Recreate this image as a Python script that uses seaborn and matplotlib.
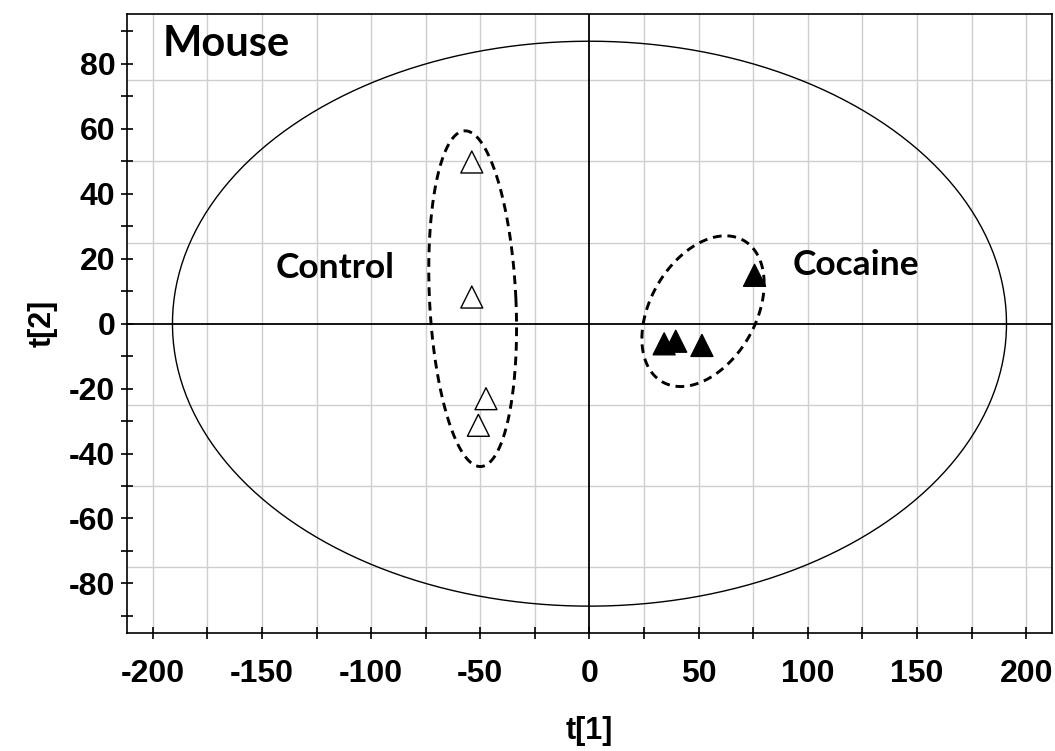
import numpy as np
import pandas as pd
import matplotlib
matplotlib.use("Agg")
import matplotlib.pyplot as plt
import seaborn as sns
from matplotlib.ticker import MultipleLocator

# scores
control_t1 = [-53.9, -53.9, -47.4, -50.9]
control_t2 = [49.8, 8.2, -23.1, -31.3]
cocaine_t1 = [34.2, 39.5, 51.5, 75.6]
cocaine_t2 = [-6.2, -5.4, -6.7, 14.9]

# Hotelling T2 ellipse (semi-axes t1, t2)
hotelling = [191, 87]
# group ellipses: cx, cy, A, B, C, D  ->  x = cx + A cos + B sin, y = cy + C cos + D sin
control_ell = [-53.5, 7.7, 19.8, -3.5, 0.0, 51.7]
cocaine_ell = [52.0, 3.85, 28.0, 0.0, 8.5, 21.6]

grid_x = [-200, -175, -150, -125, -100, -75, -50, -25, 25, 50, 75, 100, 125, 150, 175, 200]
grid_y = [-75, -50, -25, 25, 50, 75]

df = pd.DataFrame({
    "t1": control_t1 + cocaine_t1,
    "t2": control_t2 + cocaine_t2,
    "group": ["Control"] * 4 + ["Cocaine"] * 4,
})

sns.set_theme(style="white")
plt.rcParams["font.family"] = ["Liberation Sans", "DejaVu Sans"]
plt.rcParams["axes.unicode_minus"] = False
for k in ["text.color", "axes.labelcolor", "xtick.color", "ytick.color"]:
    plt.rcParams[k] = "black"

fig = plt.figure(figsize=(10.55, 7.51), dpi=100)
ax = fig.add_axes([0.12, 0.157, 0.8775, 0.824])

for gx in grid_x:
    ax.axvline(gx, color="#cfcfcf", lw=1.0, zorder=0)
for gy in grid_y:
    ax.axhline(gy, color="#cfcfcf", lw=1.0, zorder=0)
ax.axhline(0, color="black", lw=1.3, zorder=1)
ax.axvline(0, color="black", lw=1.3, zorder=1)

t = np.linspace(0, 2 * np.pi, 400)
ax.plot(hotelling[0] * np.cos(t), hotelling[1] * np.sin(t), color="black", lw=1.0, zorder=2)
for e in (control_ell, cocaine_ell):
    cx, cy, A, B, C, D = e
    ax.plot(cx + A * np.cos(t) + B * np.sin(t), cy + C * np.cos(t) + D * np.sin(t),
            color="black", lw=2.1, linestyle=(0, (3, 2)), zorder=2)

sns.scatterplot(data=df, x="t1", y="t2", hue="group",
                palette={"Control": "white", "Cocaine": "black"},
                marker="^", s=250, edgecolor="black", linewidth=1.0,
                legend=False, ax=ax, zorder=3)

ax.text(-195.3, 82.6, "Mouse", fontsize=30, fontweight="bold", family="Lato", va="baseline")
ax.text(-143.8, 14.2, "Control", fontsize=25.5, fontweight="bold", family="Lato", va="baseline")
ax.text(93, 14.9, "Cocaine", fontsize=25.5, fontweight="bold", family="Lato", va="baseline")

ax.set_xlim(-212, 212)
ax.set_ylim(-95.3, 95.3)
ax.xaxis.set_major_locator(MultipleLocator(50))
ax.xaxis.set_minor_locator(MultipleLocator(25))
ax.yaxis.set_major_locator(MultipleLocator(20))
ax.yaxis.set_minor_locator(MultipleLocator(10))
ax.tick_params(which="both", direction="inout", length=8, width=1.2, color="black",
               bottom=True, left=True)
ax.tick_params(axis="x", labelsize=23, pad=15)
ax.tick_params(axis="y", labelsize=23, pad=4)
for lab in ax.get_xticklabels() + ax.get_yticklabels():
    lab.set_fontweight("bold")

for s in ax.spines.values():
    s.set_color("black")
    s.set_linewidth(1.2)

ax.set_xlabel("t[1]", fontsize=22, fontweight="bold", labelpad=19)
ax.set_ylabel("t[2]", fontsize=22, fontweight="bold", labelpad=8)

fig.savefig("out.png", dpi=100)
